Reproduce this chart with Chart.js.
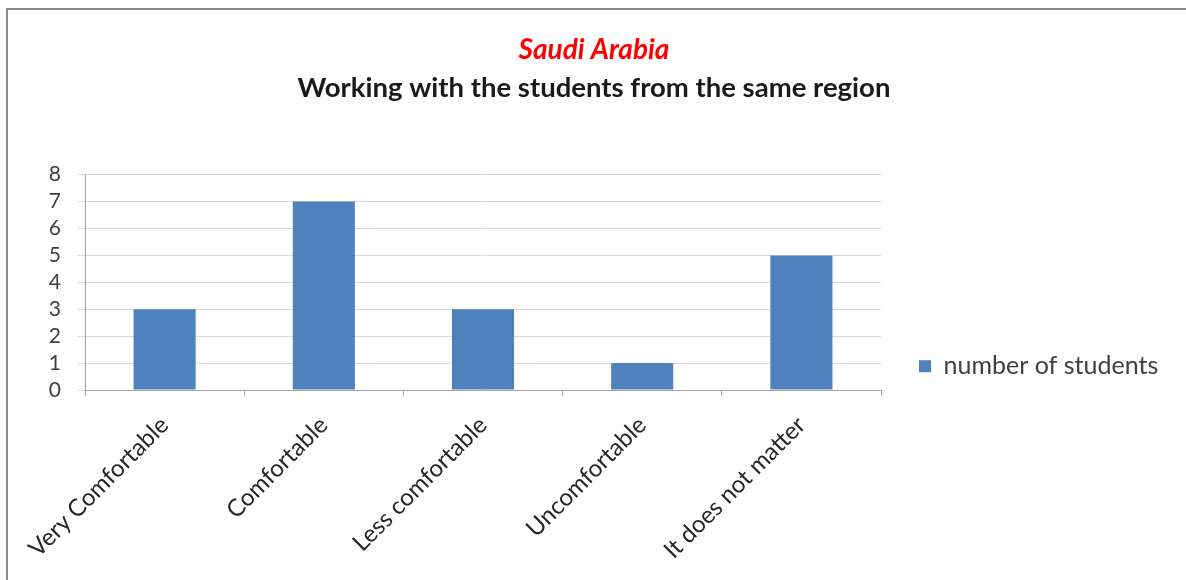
<!DOCTYPE html>
<html>
<head>
<meta charset="utf-8">
<script src="https://cdn.jsdelivr.net/npm/chart.js@4/dist/chart.umd.min.js"></script>
<style>
  html, body { margin: 0; padding: 0; background: #fff; }
  #wrap { width: 1186px; height: 580px; position: relative; }
</style>
</head>
<body>
<div id="wrap"><canvas id="bar-chart"></canvas></div>
<script>
// data
var categories = ['Very Comfortable', 'Comfortable', 'Less comfortable', 'Uncomfortable', 'It does not matter'];
var students = [3, 7, 3, 1, 5];
var yTicks = [0, 1, 2, 3, 4, 5, 6, 7, 8];

// grey frame round the chart, like the sheet object
var framePlugin = {
	id: 'frame',
	beforeDraw: function(chart) {
		var c = chart.ctx;
		c.save();
		c.strokeStyle = '#8c8c8c';
		c.lineWidth = 2;
		c.beginPath();
		c.moveTo(7, chart.height);
		c.lineTo(7, 9);
		c.lineTo(chart.width, 9);
		c.stroke();
		c.restore();
	}
};

var ctx = document.getElementById('bar-chart');
new Chart(ctx, {
	type: 'bar',
	data: {
		labels: categories,
		datasets: [{
			label: 'number of students',
			backgroundColor: '#4f81bd',
			data: students,
			barPercentage: 0.39,
			categoryPercentage: 1
		}]
	},
	options: {
		responsive: true,
		maintainAspectRatio: false,
		animation: false,
		layout: { padding: { left: 20, right: 18, top: 0, bottom: 0 } },
		plugins: {
			title: {
				display: true,
				text: 'Saudi Arabia',
				color: '#ff0000',
				font: { family: 'Lato', size: 28, style: 'italic', weight: 'bold' },
				padding: { top: 33, bottom: 0 }
			},
			subtitle: {
				display: true,
				text: 'Working with the students from the same region',
				color: '#1a1a1a',
				font: { family: 'Lato', size: 27.5, weight: 'bold' },
				padding: { top: 5, bottom: 70 }
			},
			legend: {
				position: 'right',
				align: 'center',
				// empty title only pushes the entry down to sit low beside the plot
				title: { display: true, text: ' ', font: { size: 12 }, padding: { top: 138, bottom: 0 } },
				labels: {
					color: '#404040',
					font: { family: 'Lato', size: 25 },
					boxWidth: 12,
					boxHeight: 12,
					padding: 38
				}
			},
			tooltip: { enabled: false }
		},
		scales: {
			x: {
				grid: {
					drawOnChartArea: false,
					offset: true,
					tickLength: 6,
					color: '#a6a6a6'
				},
				border: { color: '#a6a6a6' },
				ticks: {
					color: '#262626',
					font: { family: 'Lato', size: 24 },
					maxRotation: 45,
					minRotation: 45,
					padding: 15
				},
				afterFit: function(scale) { scale.height = 190; }
			},
			y: {
				min: 0,
				max: 8,
				afterBuildTicks: function(scale) {
					scale.ticks = yTicks.map(function(v) { return { value: v }; });
				},
				grid: { color: '#d9d9d9', tickLength: 7 },
				border: { color: '#a6a6a6' },
				ticks: {
					autoSkip: false,
					color: '#404040',
					font: { family: 'Lato', size: 21 },
					padding: 17
				},
				afterFit: function(scale) { scale.width = 65; }
			}
		}
	},
	plugins: [framePlugin]
});
</script>
</body>
</html>
